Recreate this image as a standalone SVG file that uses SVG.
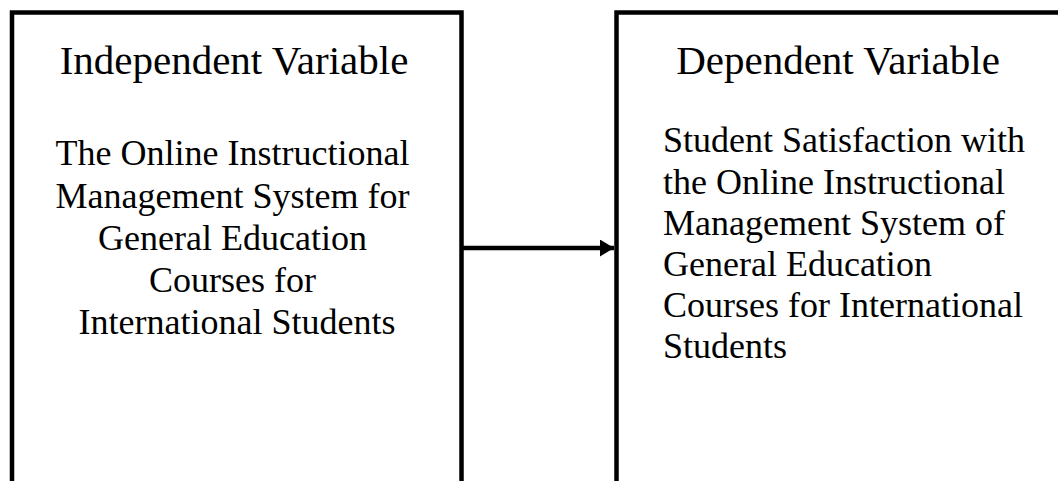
<svg xmlns="http://www.w3.org/2000/svg" width="1058" height="481" viewBox="0 0 1058 481">
  <style>
    .box { fill: #ffffff; stroke: #000000; stroke-width: 4.5; }
    .head { font-family: "Liberation Serif", "Times New Roman", serif; font-size: 41px; fill: #000000; }
    .body { font-family: "Liberation Serif", "Times New Roman", serif; font-size: 36px; fill: #000000; }
    .mid { text-anchor: middle; }
    .link { stroke: #000000; stroke-width: 4.5; fill: none; }
  </style>
  <defs>
    <marker id="arrowhead" markerUnits="userSpaceOnUse" markerWidth="14" markerHeight="17" refX="14" refY="8.5" orient="auto">
      <path d="M0,0 L14,8.5 L0,17 Z" fill="#000000"/>
    </marker>
  </defs>
  <rect width="1058" height="481" fill="#ffffff"/>

  <g id="independent-variable">
    <rect class="box" x="12" y="12.5" width="449.5" height="480"/>
    <text class="head mid" x="234" y="74">Independent Variable</text>
    <text class="body mid" x="237">
      <tspan x="237" y="165">The Online Instructional</tspan>
      <tspan x="237" y="208">Management System for</tspan>
      <tspan x="237" y="250">General Education</tspan>
      <tspan x="237" y="292">Courses for</tspan>
      <tspan x="237" y="334">International Students</tspan>
    </text>
  </g>

  <g id="dependent-variable">
    <rect class="box" x="616.5" y="12.5" width="460" height="480"/>
    <text class="head mid" x="838" y="74">Dependent Variable</text>
    <text class="body">
      <tspan x="663" y="152">Student Satisfaction with</tspan>
      <tspan x="663" y="193.5">the Online Instructional</tspan>
      <tspan x="663" y="235">Management System of</tspan>
      <tspan x="663" y="276">General Education</tspan>
      <tspan x="663" y="317">Courses for International</tspan>
      <tspan x="663" y="358">Students</tspan>
    </text>
  </g>

  <g id="connectors">
    <line class="link" x1="461.5" y1="248" x2="614" y2="248" marker-end="url(#arrowhead)"/>
  </g>
</svg>
